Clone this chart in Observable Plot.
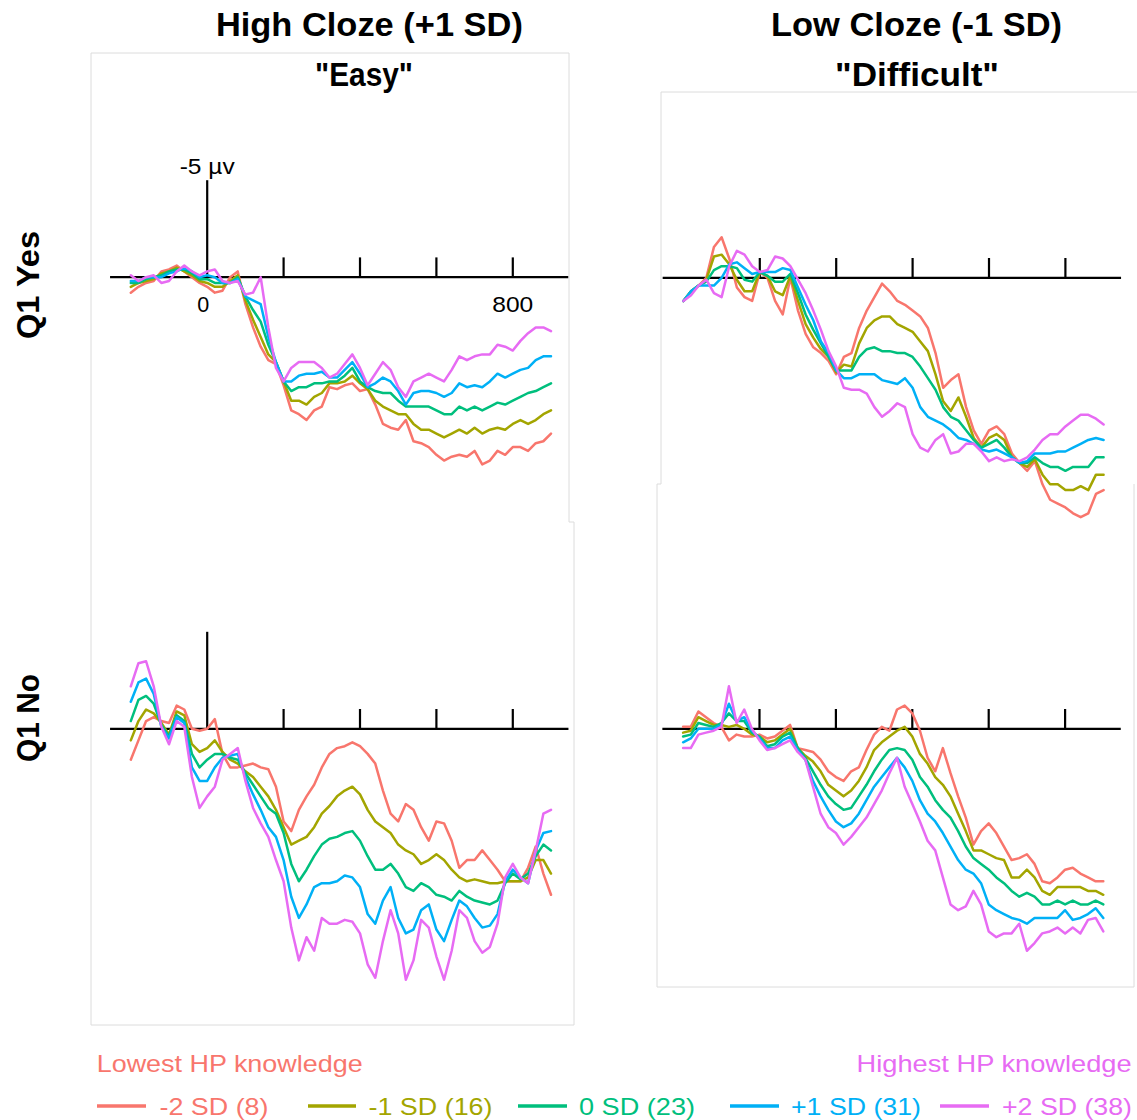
<!DOCTYPE html>
<html><head><meta charset="utf-8">
<script src="https://cdn.jsdelivr.net/npm/d3@7"></script>
<script src="https://cdn.jsdelivr.net/npm/@observablehq/plot@0.6"></script>
<style>
body{margin:0;background:#fff;font-family:"Liberation Sans",Arial,Helvetica,sans-serif;}
#fig{position:relative;width:1137px;height:1120px;overflow:hidden;background:#fff;}
.panel{position:absolute;}
.panel svg{background:transparent !important;max-width:none !important;overflow:visible;}
</style></head><body><div id="fig"></div>
<script>
// ---------- DATA ----------
const time = [-200,-180,-160,-140,-120,-100,-80,-60,-40,-20,0,20,40,60,80,100,120,140,160,180,200,220,240,260,280,300,320,340,360,380,400,420,440,460,480,500,520,540,560,580,600,620,640,660,680,700,720,740,760,780,800,820,840,860,880,900];
const groups = ["-2 SD (8)", "-1 SD (16)", "0 SD (23)", "+1 SD (31)", "+2 SD (38)"];
const colors = ["#F8766D", "#A3A500", "#00BF7D", "#00B0F6", "#E76BF3"];
const columnTitles = ["High Cloze (+1 SD)", "\"Easy\"", "Low Cloze (-1 SD)", "\"Difficult\""];
const rowTitles = ["Q1 Yes", "Q1 No"];
const legendEnds = ["Lowest HP knowledge", "Highest HP knowledge"];
const tickTimes = [0, 200, 400, 600, 800];

// High Cloze, Q1 Yes (µV, negative plotted up)
const easyYesM2 = [0.8,0.5,0.3,0.2,-0.3,-0.4,-0.6,-0.3,0.0,0.3, 0.5,0.8,0.7,0.0,-0.3,1.4,2.6,3.6,4.3,4.5, 5.6,6.9,7.1,7.4,6.9,6.7,5.7,5.8,5.6,5.5, 5.9,5.8,6.6,7.6,7.8,7.9,7.4,8.5,8.6,8.8, 9.2,9.5,9.3,9.2,9.3,9.0,9.7,9.5,9.0,9.2, 8.8,8.8,9.0,8.6,8.5,8.1];
const easyYesM1 = [0.5,0.3,0.2,0.1,-0.2,-0.3,-0.5,-0.3,-0.1,0.2, 0.3,0.5,0.5,0.2,-0.1,1.2,2.2,3.1,4.0,4.4, 5.4,6.4,6.4,6.6,6.2,6.0,5.5,5.5,5.4,5.1, 5.5,5.8,6.4,6.7,6.9,7.1,7.1,7.6,7.9,7.9, 8.1,8.3,8.1,7.9,8.1,7.8,8.1,7.9,7.8,7.9, 7.6,7.4,7.6,7.4,7.1,6.9];
const easyYes0  = [0.3,0.3,0.1,0.0,-0.1,-0.3,-0.4,-0.4,-0.2,0.1, 0.1,0.3,0.3,0.3,0.0,1.0,1.7,2.3,3.5,4.4, 5.4,5.9,5.7,5.7,5.5,5.5,5.4,5.4,5.1,4.7, 5.4,5.7,5.9,6.0,6.0,6.4,6.7,6.7,6.7,6.7, 6.9,7.1,7.1,6.7,6.9,6.7,6.9,6.7,6.5,6.6, 6.4,6.2,6.0,5.9,5.7,5.5];
const easyYesP1 = [0.2,0.2,0.0,0.0,0.0,-0.2,-0.3,-0.5,-0.3,0.0, -0.1,0.0,0.3,0.3,0.1,1.0,1.2,1.4,3.1,4.4, 5.4,5.4,5.1,5.0,5.0,4.9,5.2,5.2,4.8,4.4, 5.0,5.7,5.5,5.2,5.4,5.9,6.6,6.0,5.9,5.9, 6.0,6.2,6.0,5.5,5.7,5.6,5.7,5.4,5.0,5.2, 5.0,4.8,4.7,4.3,4.1,4.1];
const easyYesP2 = [-0.1,0.2,0.0,-0.1,0.3,0.2,-0.3,-0.6,-0.3,-0.1, -0.3,-0.4,0.2,0.3,0.2,0.9,0.8,0.0,2.6,4.7, 5.4,4.7,4.4,4.4,4.4,4.7,5.2,5.0,4.5,4.0, 4.7,5.6,5.0,4.4,4.8,5.7,6.2,5.4,5.2,5.0, 5.2,5.4,4.8,4.1,4.3,4.1,4.0,4.0,3.5,3.6, 3.8,3.3,2.9,2.6,2.6,2.8];

// Low Cloze, Q1 Yes
const hardYesM2 = [1.2,0.7,0.4,0.0,-1.6,-2.1,-1.0,0.5,1.0,1.2, -0.3,0.0,1.2,1.9,0.0,1.7,2.9,3.6,3.9,4.3, 5.0,4.1,3.9,2.6,1.7,1.0,0.3,0.7,1.2,1.4, 1.7,2.0,2.6,3.9,5.7,5.3,5.0,6.7,7.9,8.6, 7.9,7.7,8.1,9.1,9.6,10.0,9.5,10.7,11.5,11.7, 11.9,12.2,12.4,12.2,11.2,11.0];
const hardYesM1 = [1.2,0.7,0.4,0.1,-1.1,-1.2,-0.7,0.1,0.7,0.7, -0.3,-0.1,0.7,0.9,-0.1,1.2,2.4,3.1,3.7,4.1, 4.9,4.5,4.6,3.4,2.6,2.2,2.0,2.0,2.4,2.6, 2.8,3.3,3.8,5.0,6.4,6.9,6.2,7.2,8.3,8.8, 8.3,8.1,8.4,9.3,9.6,9.8,9.4,10.2,10.7,10.7, 11.0,11.0,10.8,11.0,10.2,10.2];
const hardYes0  = [1.2,0.7,0.4,0.2,-0.4,-0.6,-0.6,-0.5,0.1,0.2, -0.3,-0.1,0.2,0.2,-0.2,0.8,1.9,2.7,3.4,4.1, 4.8,4.8,4.8,4.1,3.7,3.6,3.8,3.8,3.9,3.9, 4.1,4.6,5.2,5.8,6.7,7.2,7.4,7.9,8.4,8.8, 8.6,8.4,8.8,9.3,9.6,9.6,9.3,9.6,9.8,9.8, 10.0,9.8,9.8,9.8,9.3,9.3];
const hardYesP1 = [1.2,0.7,0.4,0.4,0.4,0.0,-0.7,-0.8,-0.5,-0.2, -0.3,-0.3,-0.3,-0.5,-0.4,0.5,1.4,2.2,3.3,3.9, 4.8,5.2,5.2,5.0,5.0,5.0,5.3,5.4,5.5,5.2, 5.7,6.7,7.2,7.4,7.6,7.9,8.3,8.4,8.6,8.9, 9.0,8.9,9.1,9.3,9.6,9.5,9.1,9.1,9.1,9.0, 9.0,8.8,8.6,8.4,8.3,8.4];
const hardYesP2 = [1.2,0.9,0.4,0.1,0.8,1.0,-0.6,-1.4,-1.2,-0.6, -0.3,-0.4,-1.1,-1.0,-0.6,0.1,0.8,1.7,2.7,3.8, 4.6,5.7,5.8,5.8,6.0,6.7,7.2,6.9,6.5,6.7, 8.1,8.8,9.0,8.4,8.1,9.1,9.0,8.6,8.6,9.0, 9.5,9.3,9.5,9.4,9.5,9.3,8.9,8.4,8.1,8.1, 7.7,7.4,7.1,7.1,7.3,7.6];

// High Cloze, Q1 No
const easyNoM2 = [1.6,0.6,-0.4,-0.6,-0.4,-0.3,-1.2,-1.0,0.0,0.1, 0.0,-0.5,1.3,2.0,2.0,1.9,1.8,2.0,2.1,3.0, 4.8,5.3,4.2,3.5,2.9,2.0,1.3,1.0,0.9,0.7, 0.9,1.3,1.8,3.2,4.4,4.8,3.9,4.2,5.1,5.8, 4.8,4.9,5.8,7.2,6.8,6.8,6.3,6.8,7.3,7.9, 7.9,7.9,7.2,6.1,7.5,8.6];
const easyNoM1 = [0.6,-0.4,-1.0,-0.8,-0.3,0.3,-0.9,-0.7,0.8,1.2, 1.0,0.6,1.2,1.6,1.8,2.2,2.5,3.0,3.5,4.2, 5.1,6.0,5.8,5.6,5.1,4.4,4.0,3.5,3.2,3.0, 3.4,4.2,4.8,5.1,5.4,6.0,6.3,6.5,7.0,6.8, 6.5,6.8,7.3,7.7,7.9,7.8,7.9,8.0,8.0,7.9, 7.9,7.9,7.7,6.8,6.8,7.5];
const easyNo0  = [-0.4,-1.5,-1.7,-1.3,-0.2,0.4,-0.7,-0.4,1.3,2.0, 1.6,1.3,1.3,1.5,1.6,2.3,2.9,3.5,4.1,4.4, 5.4,7.0,7.9,7.3,6.6,6.0,5.7,5.6,5.4,5.3, 5.8,6.6,7.3,7.3,7.0,7.5,8.2,8.4,8.0,8.2, 8.6,8.7,8.9,8.4,8.7,8.9,9.0,9.1,8.9,8.0, 7.5,7.8,7.5,6.6,6.0,6.3];
const easyNoP1 = [-1.4,-2.4,-2.6,-1.8,-0.1,0.5,-0.6,-0.3,2.0,2.7, 2.7,2.0,1.5,1.4,1.3,2.5,3.4,4.2,5.1,5.6, 6.8,8.7,9.8,9.1,8.2,8.0,8.0,7.9,7.6,7.7, 8.2,9.6,10.1,8.9,8.2,9.8,10.6,10.4,9.4,9.1, 10.4,11.0,9.9,8.9,9.2,9.8,10.3,10.2,9.6,7.9, 7.3,7.7,8.0,6.3,5.4,5.3];
const easyNoP2 = [-2.2,-3.4,-3.5,-2.2,-0.1,0.8,-0.4,-0.1,2.5,4.1, 3.5,3.0,1.6,1.3,1.0,2.7,4.1,4.9,5.6,6.8, 7.9,10.3,12.0,10.8,11.5,9.8,10.1,10.1,9.9,10.0, 10.6,12.2,12.9,11.0,9.4,10.6,13.0,12.0,9.9,10.3, 11.8,13.0,11.5,9.4,9.8,11.0,11.6,11.3,10.1,7.7, 7.0,7.7,8.0,6.3,4.4,4.2];

// Low Cloze, Q1 No
const hardNoM2 = [-0.1,-0.1,-0.9,-0.6,-0.3,-0.1,0.6,0.3,0.4,0.4, 0.3,0.5,0.4,0.1,-0.2,1.0,1.1,1.2,1.6,2.2, 2.5,2.7,2.2,2.0,1.1,0.3,-0.1,0.1,-1.0,-1.2, -0.8,0.1,1.5,2.2,1.0,2.3,3.5,4.6,6.0,5.3, 4.9,5.4,6.1,6.8,6.7,6.5,7.0,7.9,8.0,7.7, 7.3,7.2,7.5,7.7,7.9,7.9];
const hardNoM1 = [0.2,0.1,-0.6,-0.4,-0.2,-0.2,-0.1,-0.2,0.0,0.3, 0.4,0.7,0.6,0.3,0.0,1.0,1.4,1.7,2.2,2.9, 3.2,3.5,3.2,2.7,2.0,1.1,0.7,0.4,0.1,-0.1, 0.4,1.3,1.8,2.5,2.9,3.5,4.4,5.3,6.3,6.3, 6.5,6.7,6.8,7.7,7.7,7.3,7.7,8.4,8.6,8.2, 8.2,8.2,8.2,8.4,8.4,8.6];
const hardNo0  = [0.4,0.3,-0.3,-0.2,-0.1,-0.3,-0.8,-0.4,-0.4,0.2, 0.4,0.9,0.8,0.4,0.2,1.0,1.5,2.2,2.9,3.5, 3.9,4.2,4.1,3.5,2.9,2.2,1.6,1.1,1.0,1.1, 1.6,2.5,3.0,3.7,4.2,4.6,5.3,6.1,6.7,7.0, 7.3,7.7,8.0,8.4,8.7,8.5,8.7,9.1,9.1,8.9, 9.1,8.9,9.1,9.1,8.9,9.1];
const hardNoP1 = [0.7,0.5,0.0,0.0,0.0,-0.2,-1.3,-0.4,-0.6,0.1, 0.5,1.0,1.0,0.6,0.4,1.1,1.6,2.7,3.5,4.2, 4.8,5.1,4.9,4.4,3.7,3.0,2.5,2.0,1.5,2.0, 2.7,3.7,4.4,4.8,5.4,6.1,6.8,7.3,7.5,8.0, 9.1,9.4,9.6,9.8,9.9,10.1,9.8,9.8,9.8,9.8, 9.4,9.9,9.8,9.6,9.3,9.8];
const hardNoP2 = [1.0,1.0,0.3,0.2,0.1,-0.1,-2.2,-0.3,-1.0,0.0, 0.6,1.1,1.0,0.8,0.6,1.2,1.6,3.0,4.4,5.1, 5.4,6.0,5.6,5.1,4.6,3.9,3.2,2.3,1.5,3.0, 3.9,4.8,5.8,6.3,7.7,9.1,9.4,9.2,8.4,9.1, 10.5,10.8,10.6,10.6,10.1,11.5,11.1,10.6,10.5,10.3, 10.6,10.3,10.6,9.9,9.8,10.5];

// ---------- LAYOUT (not data) ----------
const FONT = "'Liberation Sans', Arial, Helvetica, sans-serif";
const panels = [
  {series:[easyYesM2,easyYesM1,easyYes0,easyYesP1,easyYesP2], left:91, top:53, w:478, h:469, x0:115.7, x800:421.3, y0:223.7, y5:127.2, vaxis:true, labels:true},
  {series:[hardYesM2,hardYesM1,hardYes0,hardYesP1,hardYesP2], left:661, top:92, w:475, h:460, x0:98.3, x800:403.9, y0:185.3, y5:88.8, vaxis:false, labels:false},
  {series:[easyNoM2,easyNoM1,easyNo0,easyNoP1,easyNoP2], left:91, top:522, w:483, h:503, x0:115.7, x800:421.3, y0:206.3, y5:109.8, vaxis:true, labels:false},
  {series:[hardNoM2,hardNoM1,hardNo0,hardNoP1,hardNoP2], left:657, top:484, w:477, h:503, x0:102, x800:407.6, y0:244.3, y5:147.8, vaxis:false, labels:false}
];
const labelLengths = {"0": 12, "800": 41, "-5 µv": 55};

const fig = document.getElementById("fig");

panels.forEach(p => {
  const rows = [];
  groups.forEach((g, i) => time.forEach((t, j) => rows.push({t, v: p.series[i][j], g})));
  const marks = [
    Plot.ruleY([0], {x1: -253, x2: 947, stroke: "black", strokeWidth: 2.3}),
    Plot.ruleX(p.vaxis ? tickTimes.slice(1) : tickTimes, {y1: 0, y2: -1, stroke: "black", strokeWidth: 2.2})
  ];
  if (p.vaxis) marks.push(Plot.ruleX([0], {y1: 0, y2: -5, stroke: "black", strokeWidth: 2.2}));
  marks.push(Plot.line(rows, {x: "t", y: "v", z: "g", stroke: "g", strokeWidth: 2.5, curve: "linear"}));
  if (p.labels) {
    marks.push(Plot.text(["-5 µv"], {x: 0, y: -5, text: d => d, dy: -7, lineAnchor: "bottom", fontSize: 22, fill: "black"}));
    marks.push(Plot.text(["0"], {x: 0, y: 0, text: d => d, dx: -4, dy: 35, lineAnchor: "bottom", fontSize: 22, fill: "black"}));
    marks.push(Plot.text(["800"], {x: 800, y: 0, text: d => d, dy: 35, lineAnchor: "bottom", fontSize: 22, fill: "black"}));
  }
  const svg = Plot.plot({
    width: p.w, height: p.h,
    x: {domain: [0, 800], range: [p.x0, p.x800], axis: null},
    y: {domain: [0, -5], range: [p.y0, p.y5], axis: null},
    color: {domain: groups, range: colors},
    style: {background: "transparent", fontFamily: FONT, overflow: "visible"},
    marks
  });
  d3.select(svg).selectAll("text").each(function() {
    const s = this.textContent;
    if (labelLengths[s] != null) {
      this.setAttribute("textLength", labelLengths[s]);
      this.setAttribute("lengthAdjust", "spacingAndGlyphs");
    }
  });
  const div = document.createElement("div");
  div.className = "panel";
  div.style.left = p.left + "px";
  div.style.top = p.top + "px";
  div.style.width = p.w + "px";
  div.appendChild(svg);
  fig.appendChild(div);
});

// ---------- overlay: frames, titles, row labels, legend ----------
const ov = d3.select(fig).append("svg")
  .attr("width", 1137).attr("height", 1120)
  .style("position", "absolute").style("left", "0px").style("top", "0px")
  .style("font-family", FONT);

const frames = [
  "M91,522V53H569V522",
  "M661,484V92H1137",
  "M91,522V1025H574V522H569",
  "M661,484H657V987H1134V484"
];
ov.selectAll("path.frame").data(frames).join("path")
  .attr("class", "frame").attr("d", d => d)
  .attr("fill", "none").attr("stroke", "#dcdcdc").attr("stroke-width", 1);

function addText(s, x, y, size, weight, len, fill, anchor, transform) {
  const t = ov.append("text").text(s)
    .attr("font-size", size).attr("font-weight", weight)
    .attr("fill", fill).attr("text-anchor", anchor)
    .attr("textLength", len).attr("lengthAdjust", "spacingAndGlyphs");
  if (transform) t.attr("transform", transform); else t.attr("x", x).attr("y", y);
  return t;
}
addText(columnTitles[0], 369.4, 36, 33, "bold", 307, "black", "middle");
addText(columnTitles[1], 364, 86, 33, "bold", 98, "black", "middle");
addText(columnTitles[2], 916.5, 36, 33, "bold", 291, "black", "middle");
addText(columnTitles[3], 917, 86, 33, "bold", 164, "black", "middle");
addText(rowTitles[0], 0, 0, 32, "bold", 108, "black", "middle", "translate(39,285) rotate(-90)");
addText(rowTitles[1], 0, 0, 32, "bold", 88, "black", "middle", "translate(39,718) rotate(-90)");

addText(legendEnds[0], 96.7, 1071.7, 24, "normal", 266, colors[0], "start");
addText(legendEnds[1], 1131.6, 1071.7, 24, "normal", 275, colors[4], "end");

const legendLayout = [
  {x1: 97, x2: 146, tx: 159.5, len: 109},
  {x1: 308, x2: 356, tx: 368.5, len: 124},
  {x1: 518, x2: 567, tx: 579, len: 116},
  {x1: 730, x2: 779, tx: 791, len: 130},
  {x1: 940, x2: 989, tx: 1002, len: 130}
];
groups.forEach((g, i) => {
  const L = legendLayout[i];
  ov.append("line").attr("x1", L.x1).attr("x2", L.x2).attr("y1", 1106).attr("y2", 1106)
    .attr("stroke", colors[i]).attr("stroke-width", 3.5);
  addText(g, L.tx, 1115, 24, "normal", L.len, colors[i], "start");
});
</script>
</body></html>
